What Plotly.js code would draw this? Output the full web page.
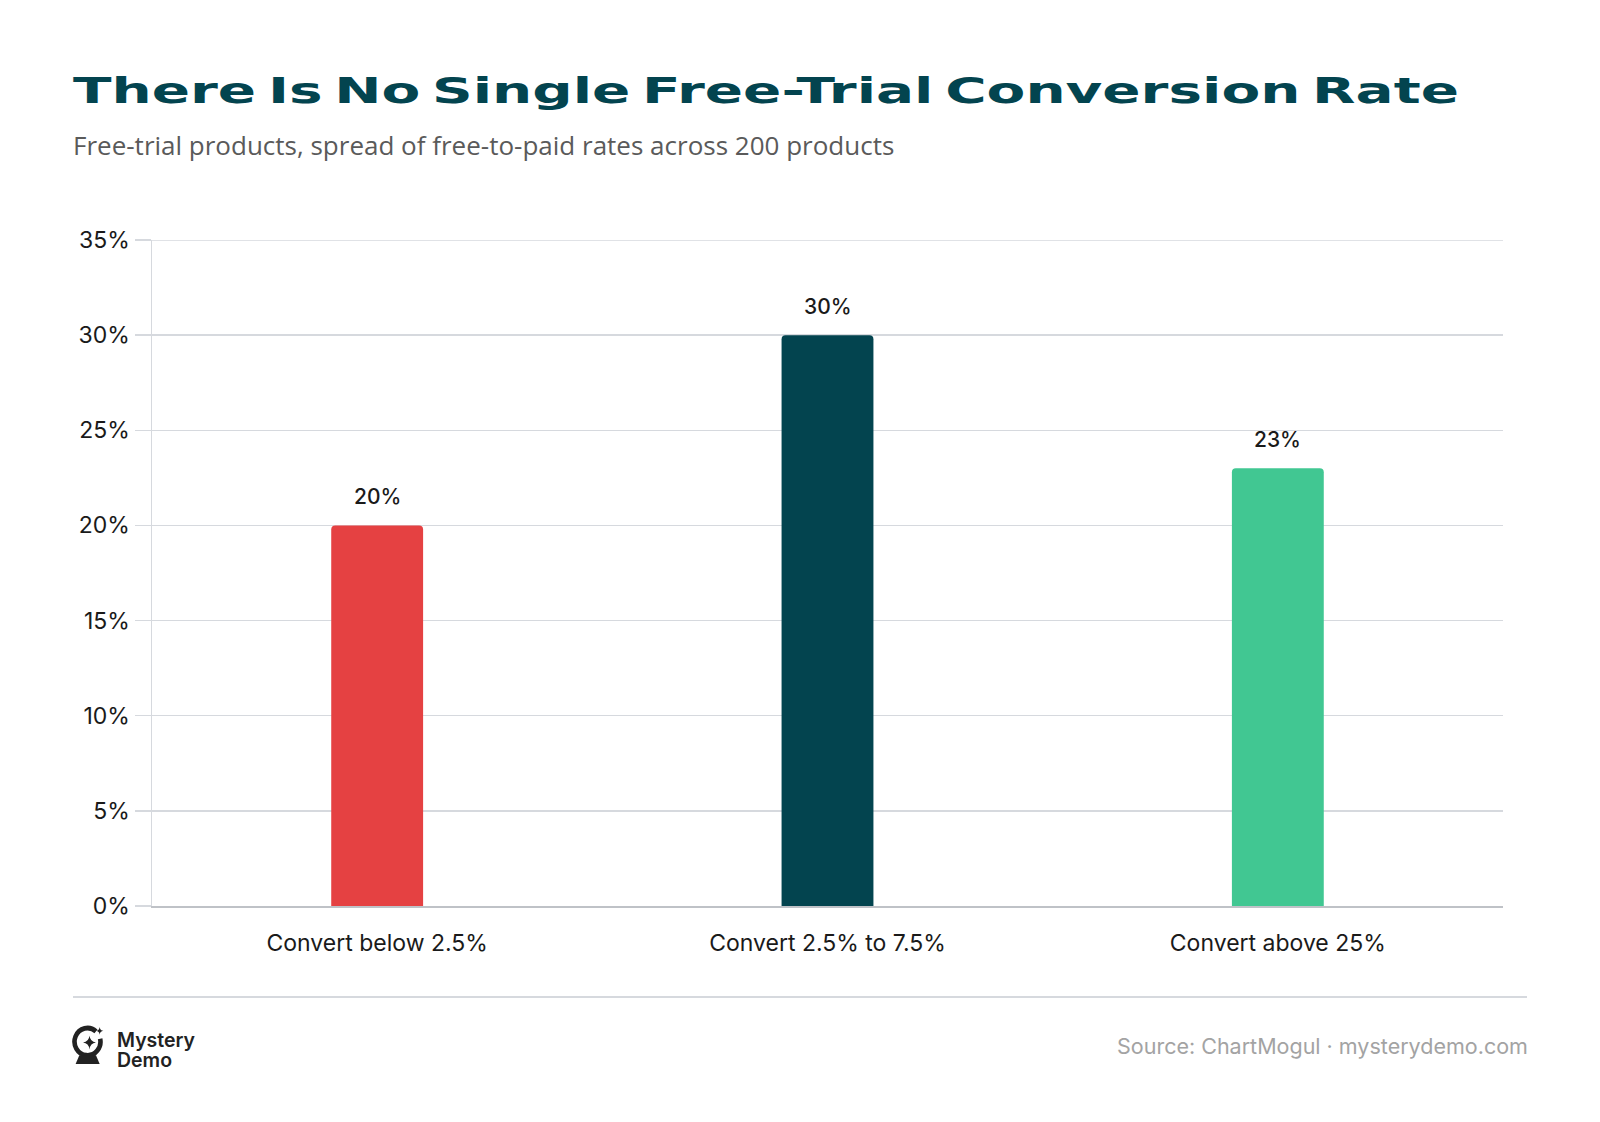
<!DOCTYPE html>
<html>
<head>
<meta charset="utf-8">
<script src="https://cdn.plot.ly/plotly-3.0.1.min.js"></script>
<style>
  html, body { margin: 0; padding: 0; background: #ffffff; }
  #chart { width: 1600px; height: 1122px; }
</style>
</head>
<body>
<div id="chart"></div>
<script>
// Share of free-trial products falling in each free-to-paid conversion band
const categories = ['Convert below 2.5%', 'Convert 2.5% to 7.5%', 'Convert above 25%'];
const shares = [20, 30, 23];
const barColors = ['#e54142', '#03444f', '#41c792'];
const yTickValues = [0, 5, 10, 15, 20, 25, 30, 35];
const yTickLabels = ['0%', '5%', '10%', '15%', '20%', '25%', '30%', '35%'];

const titleText = 'There Is No Single Free-Trial Conversion Rate';
const subtitleText = 'Free-trial products, spread of free-to-paid rates across 200 products';
const sourceText = 'Source: ChartMogul · mysterydemo.com';
const brandText = 'Mystery<br>Demo';

// Page geometry (pixels)
const W = 1600, H = 1122;
const plotL = 152, plotR = 1503, plotT = 240, plotB = 906;
const px = x => (x - plotL) / (plotR - plotL);
const py = y => (plotB - y) / (plotB - plotT);

const gridColor = '#d6d9de';
const titleWidth = 1386;   // extended display face: widen the heading to this span

const trace = {
  type: 'bar',
  x: categories,
  y: shares,
  marker: { color: barColors, cornerradius: 4, line: { width: 0 } },
  width: 0.204,
  hoverinfo: 'skip'
};

// Brand mark: crystal ball with sparkles
const logoSvg =
  '<svg xmlns="http://www.w3.org/2000/svg" width="40" height="42" viewBox="0 0 40 42">' +
  '<path d="M27 6.5 A14 14 0 1 0 31.5 14" fill="none" stroke="#222" stroke-width="5" stroke-linecap="butt"/>' +
  '<path d="M5 40 L9 31 L27 31 L31 40 Z" fill="#222"/>' +
  '<path d="M20 11 Q20.8 17.2 27 18 Q20.8 18.8 20 25 Q19.2 18.8 13 18 Q19.2 17.2 20 11 Z" fill="#222"/>' +
  '<path d="M31 2 Q31.4 5.6 35 6 Q31.4 6.4 31 10 Q30.6 6.4 27 6 Q30.6 5.6 31 2 Z" fill="#222"/>' +
  '</svg>';
const logoUri = 'data:image/svg+xml;base64,' + btoa(logoSvg);

const annotations = [
  {
    text: titleText, xref: 'paper', yref: 'paper',
    x: px(71), y: py(90), xanchor: 'left', yanchor: 'middle', showarrow: false,
    font: { family: 'DejaVu Sans', size: 36, weight: 900, color: '#03444f' }
  },
  {
    text: subtitleText, xref: 'paper', yref: 'paper',
    x: px(71), y: py(145), xanchor: 'left', yanchor: 'middle', showarrow: false,
    font: { family: 'Open Sans', size: 26, color: '#5a5a5a' }
  },
  {
    text: brandText, xref: 'paper', yref: 'paper', align: 'left',
    x: px(115), y: py(1026), xanchor: 'left', yanchor: 'top', showarrow: false,
    font: { family: 'Inter', size: 19.5, weight: 600, color: '#222222' }
  },
  {
    text: sourceText, xref: 'paper', yref: 'paper',
    x: px(1530), y: py(1046), xanchor: 'right', yanchor: 'middle', showarrow: false,
    font: { family: 'Inter', size: 21.5, color: '#a3a3a3' }
  }
];

// Value labels above each bar, built from the same data
categories.forEach((c, i) => {
  annotations.push({
    x: c, y: shares[i], xref: 'x', yref: 'y',
    text: shares[i] + '%', showarrow: false,
    yanchor: 'bottom', yshift: 14,
    font: { family: 'Inter', size: 21, weight: 500, color: '#1a1a1a' }
  });
});

const layout = {
  width: W, height: H,
  paper_bgcolor: '#ffffff', plot_bgcolor: '#ffffff',
  margin: { l: plotL, r: W - plotR, t: plotT, b: H - plotB, pad: 0 },
  showlegend: false,
  bargap: 0.8,
  font: { family: 'Inter', color: '#1a1a1a' },
  xaxis: {
    type: 'category',
    showgrid: false,
    showline: true, linecolor: '#bfc2c7', linewidth: 2,
    ticks: 'outside', ticklen: 0, tickcolor: 'rgba(0,0,0,0)',
    ticklabelstandoff: 15,
    tickfont: { family: 'Inter', size: 23, color: '#1a1a1a' },
    fixedrange: true, zeroline: false
  },
  yaxis: {
    range: [0, 35],
    tickvals: yTickValues, ticktext: yTickLabels,
    showgrid: true, gridcolor: gridColor, gridwidth: 1.5,
    showline: true, linecolor: gridColor, linewidth: 1.5,
    ticks: 'outside', ticklen: 16, tickcolor: gridColor, tickwidth: 1.5,
    ticklabelstandoff: 0,
    tickfont: { family: 'Inter', size: 23, color: '#1a1a1a' },
    zeroline: false, fixedrange: true
  },
  shapes: [
    // top gridline at the range maximum
    {
      type: 'line', xref: 'paper', yref: 'y',
      x0: 0, x1: 1, y0: yTickValues[yTickValues.length - 1], y1: yTickValues[yTickValues.length - 1],
      line: { color: gridColor, width: 1.5 }, layer: 'below'
    },
    // footer divider
    {
      type: 'line', xref: 'paper', yref: 'paper',
      x0: px(73), x1: px(1527), y0: py(997), y1: py(997),
      line: { color: gridColor, width: 2 }
    }
  ],
  images: [
    {
      source: logoUri, xref: 'paper', yref: 'paper',
      x: px(71), y: py(1025),
      sizex: 37 / (plotR - plotL), sizey: 41 / (plotB - plotT),
      xanchor: 'left', yanchor: 'top', sizing: 'stretch', layer: 'above'
    }
  ],
  annotations: annotations
};

Plotly.newPlot('chart', [trace], layout, { displayModeBar: false, staticPlot: true }).then(gd => {
  const anns = gd.querySelectorAll('.annotation');
  // Stretch the heading horizontally to mimic an extended display face,
  // keeping its left edge where the layout placed it
  const title = anns[0].querySelector('text');
  const left0 = title.getBBox().x;
  title.style.wordSpacing = '-5px';
  const bb = title.getBBox();
  const s = titleWidth / bb.width;
  title.setAttribute('transform',
    'translate(' + left0 + ',0) scale(' + s + ',1) translate(' + (-bb.x) + ',0)');
  // Tighter leading for the two-line brand name
  const lines = anns[2].querySelectorAll('tspan.line');
  if (lines.length > 1) lines[1].setAttribute('dy', '1em');
});
</script>
</body>
</html>
